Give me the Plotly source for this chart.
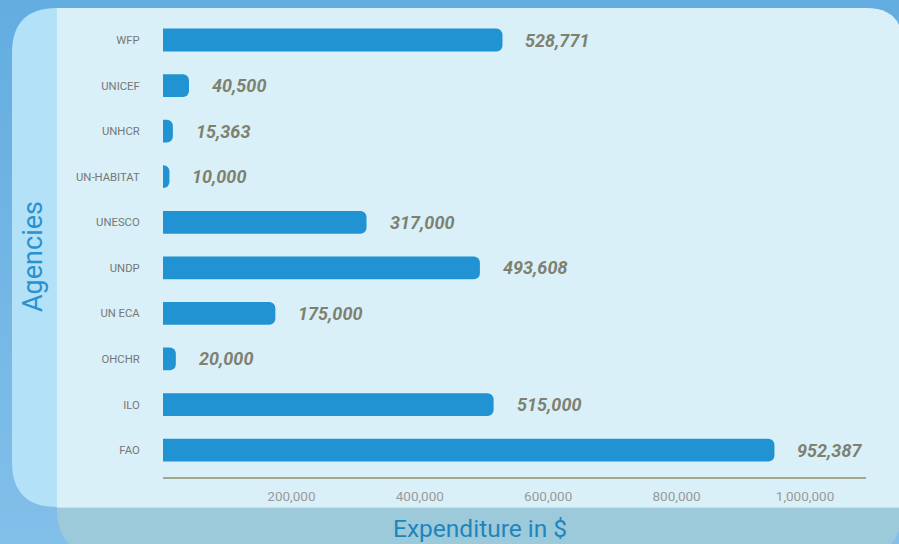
import plotly.graph_objects as go

agencies = ["WFP", "UNICEF", "UNHCR", "UN-HABITAT", "UNESCO", "UNDP", "UN ECA", "OHCHR", "ILO", "FAO"]
expenditure = [528771, 40500, 15363, 10000, 317000, 493608, 175000, 20000, 515000, 952387]
x_ticks = [200000, 400000, 600000, 800000, 1000000]
x_tick_labels = ["200,000", "400,000", "600,000", "800,000", "1,000,000"]

W, H = 899, 544


def px(x):
    return x / W


def py(y):
    return 1 - y / H


def rrect(x0, y0, x1, y1, tl=0, tr=0, br=0, bl=0):
    p = f"M {px(x0 + tl)} {py(y0)} L {px(x1 - tr)} {py(y0)} "
    p += f"Q {px(x1)} {py(y0)} {px(x1)} {py(y0 + tr)} "
    p += f"L {px(x1)} {py(y1 - br)} Q {px(x1)} {py(y1)} {px(x1 - br)} {py(y1)} "
    p += f"L {px(x0 + bl)} {py(y1)} Q {px(x0)} {py(y1)} {px(x0)} {py(y1 - bl)} "
    p += f"L {px(x0)} {py(y0 + tl)} Q {px(x0)} {py(y0)} {px(x0 + tl)} {py(y0)} Z"
    return p


# outer background vertical gradient (top -> bottom)
top_rgb = (0x63, 0xAD, 0xE0)
bot_rgb = (0x82, 0xBF, 0xE9)
n_bands = 34
shapes = []
for i in range(n_bands):
    t = i / (n_bands - 1)
    c = tuple(round(top_rgb[k] + (bot_rgb[k] - top_rgb[k]) * t) for k in range(3))
    y0 = H * i / n_bands
    y1 = H * (i + 1) / n_bands + 1
    shapes.append(dict(type="rect", xref="paper", yref="paper",
                       x0=0, x1=1, y0=py(min(y1, H)), y1=py(y0),
                       fillcolor=f"rgb({c[0]},{c[1]},{c[2]})", line_width=0, layer="below"))

shapes += [
    # main light panel
    dict(type="path", xref="paper", yref="paper",
         path=rrect(57, 8, 903, 507, tl=0, tr=37, br=0, bl=0),
         fillcolor="#D9F0F8", line_width=0, layer="below"),
    # left panel
    dict(type="path", xref="paper", yref="paper",
         path=rrect(12, 8, 57, 507, tl=45, tr=0, br=0, bl=45),
         fillcolor="#B2E1F8", line_width=0, layer="below"),
    # bottom panel
    dict(type="path", xref="paper", yref="paper",
         path=rrect(57, 507, 903, 556, tl=0, tr=0, br=48, bl=48),
         fillcolor="#9DCADB", line_width=0, layer="below"),
    # thin highlight between main and bottom panel
    dict(type="line", xref="paper", yref="paper",
         x0=px(57), x1=px(903), y0=py(507.5), y1=py(507.5),
         line=dict(color="#BFE3F0", width=1), layer="below"),
]

fig = go.Figure()
fig.add_trace(go.Bar(
    x=expenditure, y=agencies, orientation="h",
    width=0.5,
    marker=dict(color="#2293D2", cornerradius=6, line=dict(width=0)),
    hoverinfo="x+y",
))

annotations = []
for a, v in zip(agencies, expenditure):
    annotations.append(dict(
        x=v, y=a, xref="x", yref="y", text=f"{v:,}", showarrow=False,
        xanchor="left", yanchor="middle", xshift=21,
        font=dict(family="Roboto", size=18, color="#7E8070", weight="bold", style="italic"),
    ))

annotations.append(dict(
    x=px(33), y=py(257), xref="paper", yref="paper", text="Agencies", textangle=-90,
    showarrow=False, xanchor="center", yanchor="middle",
    font=dict(family="Roboto", size=27, color="#2A92D0"),
))
annotations.append(dict(
    x=px(480), y=py(528), xref="paper", yref="paper", text="Expenditure in $",
    showarrow=False, xanchor="center", yanchor="middle",
    font=dict(family="Roboto", size=24.5, color="#1F85BC"),
))

fig.update_layout(
    width=W, height=H,
    margin=dict(l=0, r=0, t=0, b=0),
    paper_bgcolor="#64AEE0",
    plot_bgcolor="rgba(0,0,0,0)",
    showlegend=False,
    shapes=shapes,
    annotations=annotations,
    xaxis=dict(
        domain=[px(163), px(866)], range=[0, 1095000],
        tickvals=x_ticks, ticktext=x_tick_labels,
        showgrid=False, zeroline=False,
        showline=True, linecolor="#A2A78E", linewidth=2,
        ticks="outside", ticklen=6, tickcolor="rgba(0,0,0,0)",
        tickfont=dict(family="Roboto", size=13.5, color="#9A9A9A"),
        fixedrange=True,
    ),
    yaxis=dict(
        domain=[1 - 477 / H, 1 - 17 / H], range=[9.59, -0.505],
        type="category", categoryorder="array", categoryarray=agencies,
        showgrid=False, zeroline=False, showline=False,
        ticks="outside", ticklen=20, tickcolor="rgba(0,0,0,0)",
        tickfont=dict(family="Roboto", size=11.3, color="#777777"),
        fixedrange=True,
    ),
    font=dict(family="Roboto"),
)

fig.write_html(
    "out.html",
    config={"displayModeBar": False},
    post_script="document.body.style.margin='0';document.body.style.padding='0';document.body.style.overflow='hidden';",
)
